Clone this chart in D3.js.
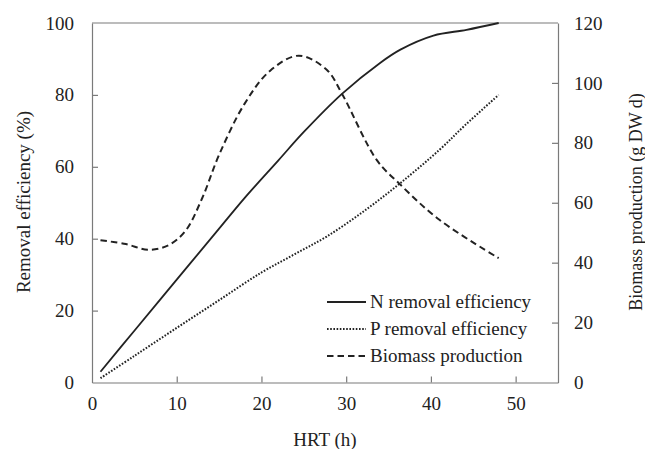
<!DOCTYPE html>
<html>
<head>
<meta charset="utf-8">
<script src="https://cdn.jsdelivr.net/npm/d3@7"></script>
<style>
  body { margin: 0; background: #fff; }
  svg text { font-family: "Liberation Serif", "Tinos", "Liberation Sans", sans-serif; fill: #222; }
</style>
</head>
<body>
<div id="chart"></div>
<script>
// data
var nHrt = [1, 5, 10, 15, 18, 22, 25, 29.5, 34, 36.4, 40.3, 44.2, 48];
var nRemoval = [3, 14.4, 28.6, 42.8, 51.3, 61.8, 69.7, 80.3, 88.9, 92.6, 96.5, 98.1, 100];

var pHrt = [1, 5, 10, 15, 20, 24, 27.7, 32, 36.3, 41, 44, 48];
var pRemoval = [1.2, 7.4, 15.2, 22.9, 30.6, 35.8, 40.6, 47.5, 55.3, 64.7, 71.5, 80];

var bHrt = [1, 4, 6.6, 9, 11, 13, 15, 18, 21, 24.4, 27.7, 29.5, 33.6, 36.3, 41, 48];
var biomass = [47.5, 46.2, 44.3, 45.8, 50.5, 61.5, 76, 93, 104, 109.1, 104.4, 96.4, 74.3, 66.3, 54.3, 41.5];

var xTicks = [0, 10, 20, 30, 40, 50];
var yLeftTicks = [0, 20, 40, 60, 80, 100];
var yRightTicks = [0, 20, 40, 60, 80, 100, 120];

var legendLabels = ["N removal efficiency", "P removal efficiency", "Biomass production"];

var width = 645, height = 449;
var margin = { top: 23, left: 92, bottom: 67, right: 87 };
var font = "'Liberation Serif', Tinos, 'Liberation Sans', sans-serif";

var svg = d3.select("#chart").append("svg")
    .attr("width", width)
    .attr("height", height);

var x = d3.scaleLinear().domain([0, 55]).range([margin.left, width - margin.right]);
var yL = d3.scaleLinear().domain([0, 100]).range([height - margin.bottom + 0.5, margin.top]);
var yR = d3.scaleLinear().domain([0, 120]).range([height - margin.bottom + 0.5, margin.top]);

var axisColor = "#7a7a7a";

// axes, ticks point inward
var gx = svg.append("g")
    .attr("transform", "translate(0," + yL(0) + ")")
    .call(d3.axisBottom(x).tickValues(xTicks).tickSizeInner(-6).tickSizeOuter(0).tickPadding(14));

var gl = svg.append("g")
    .attr("transform", "translate(" + x(0) + ",0)")
    .call(d3.axisLeft(yL).tickValues(yLeftTicks).tickSizeInner(-6).tickSizeOuter(0).tickPadding(18));

var gr = svg.append("g")
    .attr("transform", "translate(" + x(55) + ",0)")
    .call(d3.axisRight(yR).tickValues(yRightTicks).tickSizeInner(-6).tickSizeOuter(0).tickPadding(16));

[gx, gl, gr].forEach(function (g) {
    g.attr("font-family", font);
    g.selectAll(".domain").attr("stroke", axisColor).attr("stroke-width", 1.2);
    g.selectAll(".tick line").attr("stroke", axisColor).attr("stroke-width", 1.2);
    g.selectAll(".tick text")
        .attr("font-size", 19)
        .attr("fill", "#222");
});
// ticks at the corners fall on the frame
gx.selectAll(".tick line").filter(function (d) { return d === 0; }).remove();
gl.selectAll(".tick line").filter(function (d) { return d === 0 || d === 100; }).remove();
gr.selectAll(".tick line").filter(function (d) { return d === 0 || d === 120; }).remove();

// top border
svg.append("line")
    .attr("x1", x(0)).attr("x2", x(55))
    .attr("y1", yL(100)).attr("y2", yL(100))
    .attr("stroke", axisColor).attr("stroke-width", 1.2);

// axis titles
svg.append("text")
    .attr("x", (x(0) + x(55)) / 2)
    .attr("y", 446)
    .attr("text-anchor", "middle")
    .attr("font-size", 19)
    .text("HRT (h)");

svg.append("text")
    .attr("transform", "translate(30,202) rotate(-90)")
    .attr("text-anchor", "middle")
    .attr("font-size", 19)
    .text("Removal efficiency (%)");

svg.append("text")
    .attr("transform", "translate(642,202) rotate(-90)")
    .attr("text-anchor", "middle")
    .attr("font-size", 18)
    .text("Biomass production (g DW d)");

// lines
var lineColor = "#222";
var styles = [
    { dash: null, width: 1.8 },
    { dash: "1.6,1.6", width: 2 },
    { dash: "6.5,4", width: 2 }
];

function drawLine(xs, ys, yScale, st) {
    var pts = xs.map(function (v, i) { return [v, ys[i]]; });
    var line = d3.line()
        .x(function (d) { return x(d[0]); })
        .y(function (d) { return yScale(d[1]); })
        .curve(d3.curveCatmullRom.alpha(0.5));
    svg.append("path")
        .datum(pts)
        .attr("d", line)
        .attr("fill", "none")
        .attr("stroke", lineColor)
        .attr("stroke-width", st.width)
        .attr("stroke-dasharray", st.dash);
}

drawLine(nHrt, nRemoval, yL, styles[0]);
drawLine(pHrt, pRemoval, yL, styles[1]);
drawLine(bHrt, biomass, yR, styles[2]);

// legend
var legend = svg.append("g").attr("transform", "translate(327,302)");
legendLabels.forEach(function (lab, i) {
    var row = legend.append("g").attr("transform", "translate(0," + (i * 27) + ")");
    row.append("line")
        .attr("x1", 0).attr("x2", 39)
        .attr("y1", 0).attr("y2", 0)
        .attr("stroke", lineColor)
        .attr("stroke-width", styles[i].width)
        .attr("stroke-dasharray", styles[i].dash);
    row.append("text")
        .attr("x", 43)
        .attr("y", 6)
        .attr("font-size", 19)
        .text(lab);
});
</script>
</body>
</html>
